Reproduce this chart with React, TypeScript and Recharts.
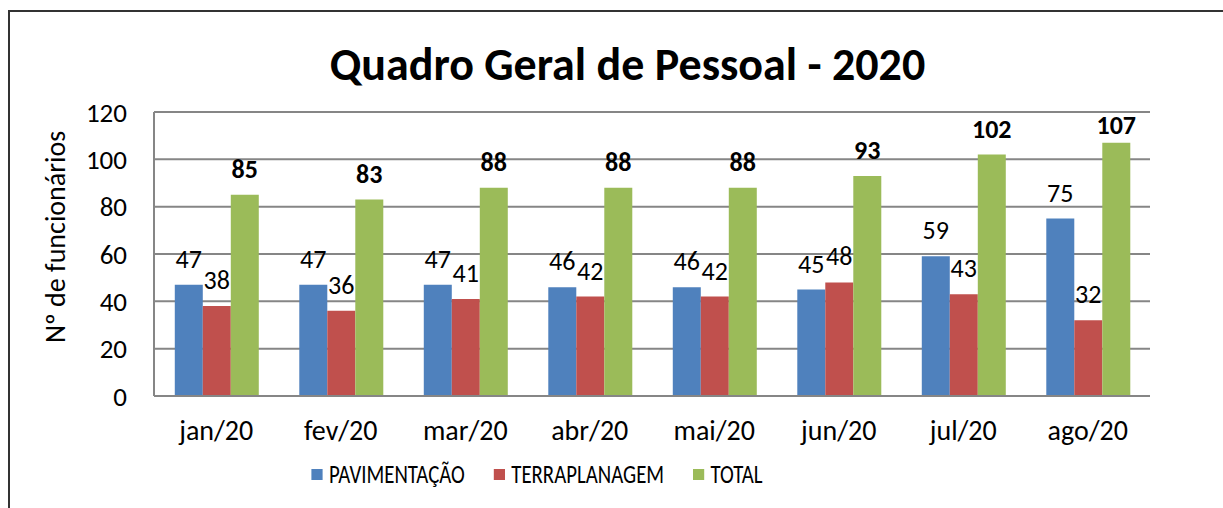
import React from 'react'
import {
  BarChart,
  Bar,
  XAxis,
  YAxis,
  CartesianGrid,
  Legend,
  LabelList,
} from 'recharts'

const months = ['jan/20', 'fev/20', 'mar/20', 'abr/20', 'mai/20', 'jun/20', 'jul/20', 'ago/20']
const pavimentacao = [47, 47, 47, 46, 46, 45, 59, 75]
const terraplanagem = [38, 36, 41, 42, 42, 48, 43, 32]
const total = [85, 83, 88, 88, 88, 93, 102, 107]
const yTicks = [0, 20, 40, 60, 80, 100, 120]

const series = [
  { key: 'pav', name: 'PAVIMENTAÇÃO', color: '#4F81BD', bold: false },
  { key: 'ter', name: 'TERRAPLANAGEM', color: '#C0504D', bold: false },
  { key: 'tot', name: 'TOTAL', color: '#9BBB59', bold: true },
]

const data = months.map((m, i) => ({
  month: m,
  pav: pavimentacao[i],
  ter: terraplanagem[i],
  tot: total[i],
}))

const FONT = 'Carlito, Lato, sans-serif'

// Excel-style labels: floating a bit above the bar, clamped under the top gridline
function valueLabel(bold: boolean) {
  return (props: any) => {
    const { x, y, width, value } = props
    const cy = Math.max(y - 26, 125)
    return (
      <text
        x={x + width / 2}
        y={cy}
        textAnchor="middle"
        dominantBaseline="central"
        fontFamily={FONT}
        fontSize={26}
        fontWeight={bold ? 700 : 400}
        fill="#000"
      >
        {value}
      </text>
    )
  }
}

// legend text in the original is a condensed face, so squeeze it horizontally
function LegendRow() {
  return (
    <div
      style={{
        display: 'flex',
        justifyContent: 'center',
        alignItems: 'center',
        gap: 36,
        fontFamily: FONT,
        fontSize: 26,
        color: '#000',
        paddingRight: 149,
        transform: 'scaleX(0.8)',
        transformOrigin: '537px 50%',
      }}
    >
      {series.map((s) => (
        <div key={s.key} style={{ display: 'flex', alignItems: 'center' }}>
          <span
            style={{
              display: 'inline-block',
              width: 14,
              height: 11,
              background: s.color,
              marginRight: 8,
            }}
          />
          <span>{s.name}</span>
        </div>
      ))}
    </div>
  )
}

export default function App() {
  return (
    <div
      style={{
        position: 'fixed',
        left: 0,
        top: 0,
        width: 1223,
        height: 508,
        overflow: 'hidden',
        background: '#fff',
      }}
    >
      <div
        style={{
          position: 'absolute',
          left: 8,
          top: 10,
          width: 1240,
          height: 530,
          border: '2px solid #333',
          boxSizing: 'border-box',
        }}
      />
      <div
        style={{
          position: 'absolute',
          left: 0,
          width: 1255,
          top: 36,
          textAlign: 'center',
          fontFamily: FONT,
          fontWeight: 700,
          fontSize: 46,
          color: '#000',
        }}
      >
        Quadro Geral de Pessoal - 2020
      </div>
      <div style={{ position: 'absolute', left: 0, top: 0 }}>
        <BarChart
          width={1223}
          height={508}
          data={data}
          margin={{ top: 112, right: 73, bottom: 62, left: 0 }}
          barCategoryGap="16.7%"
          barGap={0}
        >
          <CartesianGrid vertical={false} stroke="#868686" strokeWidth={2} />
          <XAxis
            dataKey="month"
            height={50}
            axisLine={{ stroke: '#868686', strokeWidth: 2 }}
            tickLine={false}
            tickSize={0}
            tickMargin={24}
            tick={{ fontFamily: FONT, fontSize: 28, fill: '#000' }}
            interval={0}
          />
          <YAxis
            width={154}
            domain={[0, 120]}
            ticks={yTicks}
            axisLine={{ stroke: '#868686', strokeWidth: 2 }}
            tickLine={false}
            tickSize={0}
            tickMargin={27}
            tick={{ fontFamily: FONT, fontSize: 27, fill: '#000' }}
            label={{
              value: 'Nº de funcionários',
              angle: -90,
              position: 'center',
              dx: -22,
              dy: -17,
              style: { fontFamily: FONT, fontSize: 28, fill: '#000', textAnchor: 'middle' },
            }}
          />
          <Legend
            verticalAlign="middle"
            align="center"
            wrapperStyle={{ top: 458, left: 0, width: 1223 }}
            content={() => <LegendRow />}
          />
          {series.map((s) => (
            <Bar
              key={s.key}
              dataKey={s.key}
              name={s.name}
              fill={s.color}
              isAnimationActive={false}
            >
              <LabelList dataKey={s.key} content={valueLabel(s.bold)} />
            </Bar>
          ))}
        </BarChart>
      </div>
    </div>
  )
}
